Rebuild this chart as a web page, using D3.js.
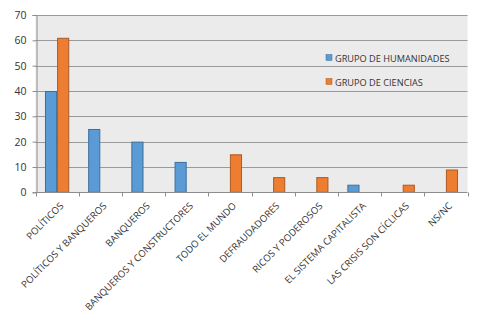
<!DOCTYPE html>
<html>
<head>
<meta charset="utf-8">
<script src="https://cdn.jsdelivr.net/npm/d3@7"></script>
<style>
  body { margin: 0; background: #fff; }
  svg text { font-family: "Open Sans", "Liberation Sans", sans-serif; fill: #333; }
</style>
</head>
<body>
<svg id="chart" width="481" height="316"></svg>
<script>
const categories = [
  "POLÍTICOS", "POLÍTICOS Y BANQUEROS", "BANQUEROS", "BANQUEROS Y CONSTRUCTORES",
  "TODO EL MUNDO", "DEFRAUDADORES", "RICOS Y PODEROSOS", "EL SISTEMA CAPITALISTA",
  "LAS CRISIS SON CÍCLICAS", "NS/NC"
];
const seriesNames = ["GRUPO DE HUMANIDADES", "GRUPO DE CIENCIAS"];
const humanidades = [40, 25, 20, 12, 0, 0, 0, 3, 0, 0];
const ciencias = [61, 0, 0, 0, 15, 6, 6, 0, 3, 9];
const yTicks = [0, 10, 20, 30, 40, 50, 60, 70];

const colors = ["#5b9bd5", "#ed7d31"];
const strokes = ["#3f6e9c", "#ae5a21"];

const svg = d3.select("#chart");
const plotLeft = 35.5, plotRight = 467.5, plotTop = 15, plotBottom = 192.3;

const x = d3.scaleBand().domain(categories).range([plotLeft, plotRight]).padding(0);
const xs = d3.scaleBand().domain(seriesNames).range([0, x.bandwidth()])
  .paddingInner(0).paddingOuter(0.78);
const y = d3.scaleLinear().domain([0, 70]).range([plotBottom, plotTop]);

svg.append("rect")
  .attr("x", plotLeft).attr("y", plotTop)
  .attr("width", plotRight - plotLeft).attr("height", plotBottom - plotTop)
  .attr("fill", "#ebebeb");

// grid
svg.append("g")
  .selectAll("line")
  .data(yTicks.filter((d) => d > 0))
  .join("line")
  .attr("x1", plotLeft).attr("x2", plotRight)
  .attr("y1", (d) => Math.round(y(d)) + 0.5).attr("y2", (d) => Math.round(y(d)) + 0.5)
  .attr("stroke", "#9a9a9a").attr("stroke-width", 1);

const data = seriesNames.map((name, i) => ({
  name,
  values: (i === 0 ? humanidades : ciencias).map((v, j) => ({ cat: categories[j], v }))
}));

svg.append("g")
  .selectAll("g")
  .data(data)
  .join("g")
  .each(function (s, i) {
    d3.select(this)
      .selectAll("rect")
      .data(s.values.filter((d) => d.v > 0))
      .join("rect")
      .attr("x", (d) => x(d.cat) + xs(s.name) + 0.5)
      .attr("y", (d) => y(d.v) + 0.5)
      .attr("width", xs.bandwidth() - 1)
      .attr("height", (d) => plotBottom - y(d.v) - 0.5)
      .attr("fill", colors[i])
      .attr("stroke", strokes[i]).attr("stroke-width", 1);
  });

// y axis
const yAxis = svg.append("g")
  .attr("transform", `translate(${Math.round(plotLeft) + 0.5},0)`)
  .call(d3.axisLeft(y).tickValues(yTicks).tickSize(4).tickPadding(6).tickFormat(d3.format("d")));
yAxis.select(".domain").attr("stroke", "#8c8c8c");
yAxis.selectAll(".tick line").attr("stroke", "#8c8c8c");
yAxis.selectAll("text").style("font-size", "10.5px").attr("fill", "#333");

// x axis
const xAxisG = svg.append("g").attr("transform", `translate(0,${Math.round(plotBottom) + 0.5})`);
xAxisG.append("line")
  .attr("x1", plotLeft).attr("x2", plotRight).attr("stroke", "#8c8c8c");
xAxisG.selectAll(".tk")
  .data(categories.concat(["end"]))
  .join("line")
  .attr("class", "tk")
  .attr("x1", (d, i) => Math.round(i < categories.length ? x(d) : plotRight) + 0.5)
  .attr("x2", (d, i) => Math.round(i < categories.length ? x(d) : plotRight) + 0.5)
  .attr("y1", 0).attr("y2", 4)
  .attr("stroke", "#8c8c8c");

xAxisG.selectAll("text")
  .data(categories)
  .join("text")
  .attr("transform", (d) => `translate(${x(d) + x.bandwidth() / 2 + 7},14) rotate(-45)`)
  .attr("text-anchor", "end")
  .style("font-size", "9.6px")
  .text((d) => d);

// legend
const legend = svg.append("g")
  .selectAll("g")
  .data(seriesNames)
  .join("g")
  .attr("transform", (d, i) => `translate(326,${58 + i * 24})`);
legend.append("rect")
  .attr("x", 0).attr("y", -3.5).attr("width", 6).attr("height", 6)
  .attr("fill", (d, i) => colors[i]).attr("stroke", (d, i) => strokes[i]).attr("stroke-width", 0.5);
legend.append("text")
  .attr("x", 9).attr("y", 3.5)
  .style("font-size", "9.2px")
  .text((d) => d);
</script>
</body>
</html>
